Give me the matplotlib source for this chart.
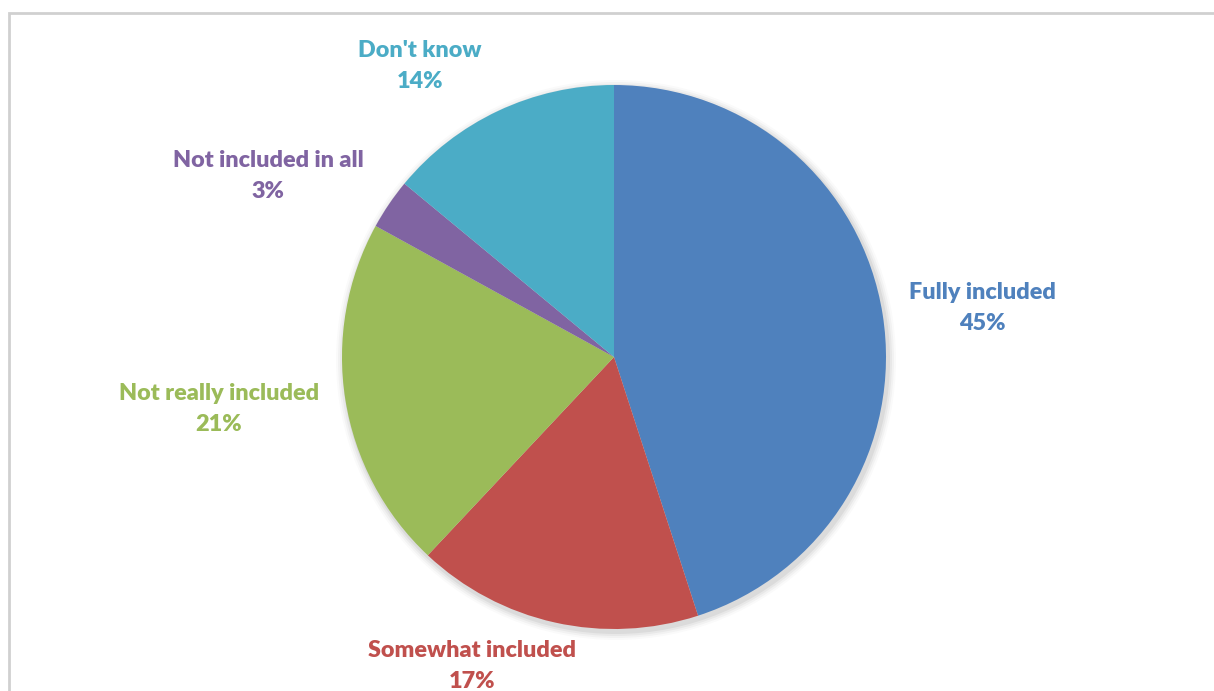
import matplotlib.pyplot as plt
from matplotlib.patches import Circle, Rectangle

W, H = 1214, 691

categories = ["Fully included", "Somewhat included", "Not really included",
              "Not included in all", "Don't know"]
shares = [45, 17, 21, 3, 14]
colors = ["#4F81BD", "#C0504D", "#9BBB59", "#8064A2", "#4BACC6"]

# label centres in pixels (from the top-left of the picture)
label_pos = [(982, 308), (472, 666), (219, 409), (268, 176), (420, 66)]

plt.rcParams['font.family'] = ['Lato', 'DejaVu Sans']

fig = plt.figure(figsize=(W / 100, H / 100), dpi=100)
ax = fig.add_axes([0, 0, 1, 1])

cx, cy, r = 614, H - 357, 272

# faint shadow round the pie
for i, a in enumerate([0.05, 0.04, 0.03, 0.02]):
    ax.add_patch(Circle((cx + 2, cy - 3), r + 2 + i * 2, color="#000000",
                        alpha=a, lw=0, zorder=0))

ax.pie(shares, colors=colors, startangle=90, counterclock=False,
       center=(cx, cy), radius=r, wedgeprops=dict(linewidth=0),
       frame=True)

for name, val, col, (x, y) in zip(categories, shares, colors, label_pos):
    ax.text(x, H - y, f"{name}\n{val}%", color=col, fontsize=16.8,
            fontweight='heavy', ha='center', va='center', linespacing=1.62)

# chart frame
ax.add_patch(Rectangle((9, -20), W + 20, H - 12 + 20 - 1, fill=False,
                       edgecolor="#D0D0D0", lw=2, zorder=5))

ax.set_xlim(0, W)
ax.set_ylim(0, H)
ax.set_aspect('equal')
ax.axis('off')

fig.savefig("out.png", dpi=100)
